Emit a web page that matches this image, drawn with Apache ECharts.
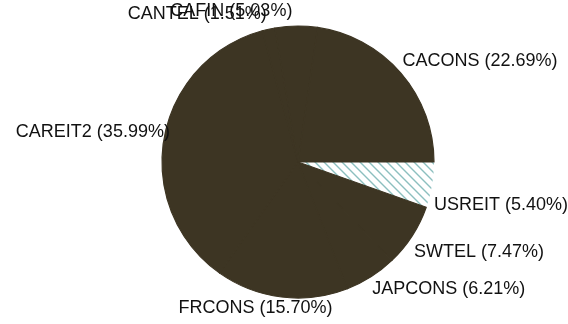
<!DOCTYPE html>
<html>
<head>
<meta charset="utf-8">
<script src="https://cdn.jsdelivr.net/npm/echarts@6/dist/echarts.min.js"></script>
<style>
  html, body { margin: 0; padding: 0; background: #ffffff; }
  #chart { width: 568px; height: 324px; }
</style>
</head>
<body>
<div id="chart"></div>
<script>
// Portfolio weights, listed clockwise from 3 o'clock
const categories = ['USREIT', 'SWTEL', 'JAPCONS', 'FRCONS', 'CAREIT2', 'CANTEL', 'CAFIN', 'CACONS'];
const weights = [5.40, 7.47, 6.21, 15.70, 35.99, 1.51, 5.03, 22.69];
const hatched = ['USREIT'];

const CX = 298, CY = 162, R = 136;
const FILL = '#3d3523';
const HATCH = '#8cbfbf';

// diagonal hatch tile
function hatchTile() {
  const s = 9;
  const c = document.createElement('canvas');
  c.width = s; c.height = s;
  const g = c.getContext('2d');
  g.fillStyle = '#ffffff';
  g.fillRect(0, 0, s, s);
  g.strokeStyle = HATCH;
  g.lineWidth = 1.4;
  g.beginPath();
  g.moveTo(-2, -2); g.lineTo(s + 2, s + 2);
  g.moveTo(s - 2, -2); g.lineTo(s + 2, 2);
  g.moveTo(-2, s - 2); g.lineTo(2, s + 2);
  g.stroke();
  return c;
}
const pattern = { image: hatchTile(), repeat: 'repeat' };

// mid-angle (radians, clockwise from 3 o'clock) of every slice
const total = weights.reduce((a, b) => a + b, 0);
const midAngles = [];
let acc = 0;
weights.forEach(v => {
  midAngles.push(((acc + v / 2) / total) * Math.PI * 2);
  acc += v;
});

const data = categories.map((name, i) => {
  const isHatch = hatched.indexOf(name) >= 0;
  return {
    name: name,
    value: weights[i],
    itemStyle: isHatch
      ? { color: pattern, borderWidth: 0 }
      : { color: FILL, borderColor: FILL, borderWidth: 1.2 }
  };
});

const chart = echarts.init(document.getElementById('chart'), null, { renderer: 'canvas' });
chart.setOption({
  animation: false,
  backgroundColor: '#ffffff',
  series: [{
    type: 'pie',
    center: [CX, CY],
    radius: [0, R],
    startAngle: 0,
    clockwise: true,
    avoidLabelOverlap: false,
    data: data,
    label: {
      show: true,
      position: 'outside',
      formatter: p => p.name + ' (' + p.value.toFixed(2) + '%)',
      fontFamily: '"Liberation Sans", Arial, sans-serif',
      fontSize: 18,
      color: '#111111'
    },
    labelLine: { show: false, length: 0, length2: 0 },
    emphasis: { disabled: true },
    labelLayout: function (params) {
      const a = midAngles[params.dataIndex];
      const c = Math.cos(a), s = Math.sin(a);
      const w = params.labelRect.width;
      // horizontal anchor: left edge on the right side, right edge on the left side
      const ax = c >= 0 ? CX + 138 * c : CX + 126 * c - 4;
      // upper labels hang off to one side; lower labels near the bottom slide toward centre
      const side = c >= 0 ? 1 : -1;
      const f = s < 0 ? side : side * Math.min(1, Math.pow(Math.abs(c) / 0.22, 2));
      // vertical: labels sit below the rim in the lower half, above it in the upper half
      const y = s >= 0 ? CY + 125 * s + 22 : CY + 146 * s - 5;
      return {
        x: ax + f * w / 2,
        y: y,
        align: 'center',
        verticalAlign: 'middle'
      };
    }
  }]
});
</script>
</body>
</html>
